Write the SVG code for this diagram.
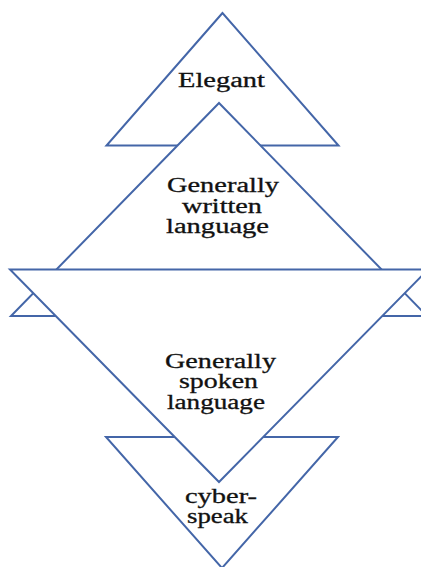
<svg xmlns="http://www.w3.org/2000/svg" width="421" height="567" viewBox="0 0 421 567">
<style>
.tri{fill:#ffffff;stroke:#4466a8;stroke-width:2;stroke-linejoin:miter}
.lbl{font-family:"Liberation Serif","Times New Roman",serif;font-size:20px;fill:#111111;text-anchor:middle;stroke:#111111;stroke-width:0.3}
</style>
<rect width="421" height="567" fill="#ffffff"/>
<g id="elegant">
<polygon class="tri" points="222.5,13 106.5,145.5 338.5,145.5"/>
<text class="lbl" x="221.5" y="87" textLength="87" lengthAdjust="spacingAndGlyphs">Elegant</text>
</g>
<g id="written">
<polygon class="tri" points="219,103 11,316 427,316"/>
<text class="lbl" x="223" y="192" textLength="112" lengthAdjust="spacingAndGlyphs">Generally</text>
<text class="lbl" x="222" y="213" textLength="80" lengthAdjust="spacingAndGlyphs">written</text>
<text class="lbl" x="217.5" y="233" textLength="103" lengthAdjust="spacingAndGlyphs">language</text>
</g>
<g id="cyberspeak">
<polygon class="tri" points="106,437 338,437 222,568"/>
<text class="lbl" x="221" y="503" textLength="72" lengthAdjust="spacingAndGlyphs">cyber-</text>
<text class="lbl" x="217.5" y="523" textLength="61" lengthAdjust="spacingAndGlyphs">speak</text>
</g>
<g id="spoken">
<polygon class="tri" points="10,269.5 428,269.5 219,482"/>
<text class="lbl" x="220.5" y="368" textLength="111" lengthAdjust="spacingAndGlyphs">Generally</text>
<text class="lbl" x="218.5" y="388" textLength="79" lengthAdjust="spacingAndGlyphs">spoken</text>
<text class="lbl" x="216" y="409" textLength="98" lengthAdjust="spacingAndGlyphs">language</text>
</g>
<g id="connectors"></g>
</svg>
